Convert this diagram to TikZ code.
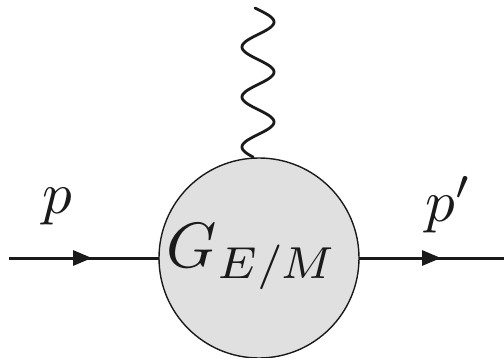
\documentclass[tikz,border=0pt]{standalone}
\usetikzlibrary{arrows.meta}
\definecolor{ink}{HTML}{1A1A1A}
\definecolor{blobfill}{HTML}{E0E0E0}
\tikzset{
  fermion/.style={draw=ink, line width=3pt},
  tip/.style={draw=ink, line width=3pt, -{Triangle[length=19pt,width=15pt]}},
  blob/.style={circle, draw=ink, line width=1.4pt, fill=blobfill, minimum size=200pt, inner sep=0pt, outer sep=0pt},
  photon/.style={draw=ink, line width=2.8pt, line cap=round},
  lbl/.style={anchor=base, inner sep=0pt, text=ink}
}
\begin{document}
\begin{tikzpicture}[x=1pt,y=-1pt]
\useasboundingbox (0,0) rectangle (504,357);
\coordinate (L) at (9,258);
\coordinate (R) at (504,258);
\coordinate (La) at (92,258);
\coordinate (Ra) at (441,258);
\coordinate (W) at (260,8);
\node[blob] (C) at (259,258) {};
\draw[fermion] (L) -- (C.west);
\draw[tip] (L) -- (La);
\draw[fermion] (C.east) -- (R);
\draw[tip] (C.east) -- (Ra);
\draw[photon] plot[domain=8:157, samples=120, smooth] ({258+16*cos(7.2*(\x-22))}, \x);
\node[lbl, scale=6.4] (G) at (252,267) {$G_{E/M}$};
\node[lbl, scale=5.9] (p) at (57,213) {$p$};
\node[lbl, scale=5.9] (pp) at (449,221) {$p'$};
\end{tikzpicture}
\end{document}
